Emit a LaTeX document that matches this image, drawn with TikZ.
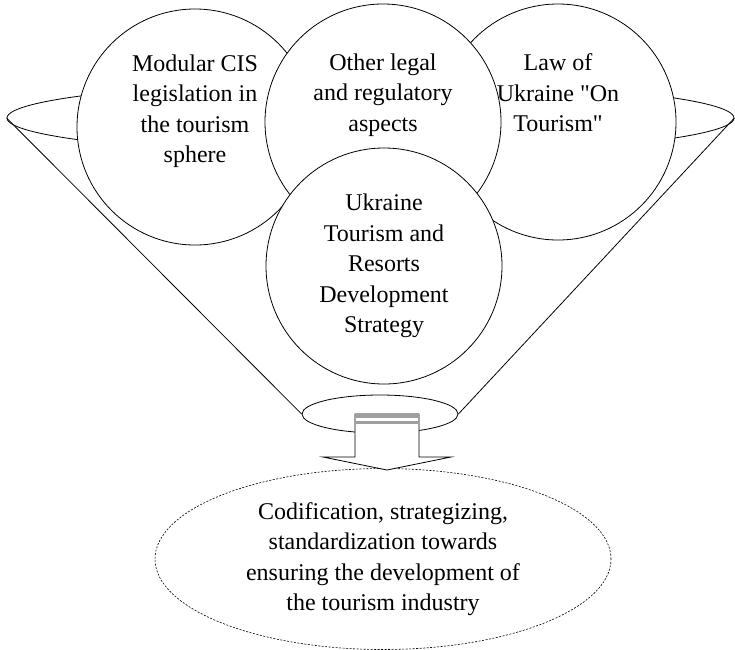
\documentclass[tikz,border=0pt]{standalone}
\usepackage{fontspec}
\defaultfontfeatures[\rmfamily]{}
\setmainfont{Liberation Serif}
\usetikzlibrary{shapes.geometric,calc}

\begin{document}
\begin{tikzpicture}[
			x=1pt, y=-1pt,
			line width=0.8pt,
			every node/.style={font=\fontsize{24}{30.5}\selectfont},
			topic/.style={circle,draw,fill=white,minimum size=236pt,inner sep=0pt},
			circtext/.style={align=center,inner sep=0pt},
			funnelrim/.style={ellipse,draw,inner sep=0pt},
			goalbox/.style={ellipse,draw,line width=0.6pt,dash pattern=on 2pt off 1.5pt,align=center,inner sep=0pt}
		]

		\useasboundingbox (0,0) rectangle (735,649);

		\node[funnelrim,minimum width=727pt,minimum height=73pt] (rim) at (370.5,118) {};
		\node[funnelrim,minimum width=156pt,minimum height=38pt] (neck) at (380,414) {};

		\draw (rim.west) -- (neck.west);
		\draw (rim.east) -- (neck.east);

		\node[topic] (cis) at (195,127) {};
		\node[topic] (law) at (558,122) {};
		\node[topic] (other) at (383,122) {};
		\node[topic,align=center] (strategy) at (384,266) {Ukraine\\Tourism and\\Resorts\\Development\\Strategy};

		\node[circtext] (cistxt) at ([yshift=16pt]cis.center) {Modular CIS\\legislation in\\the tourism\\sphere};
		\node[circtext] (othertxt) at ([yshift=27pt]other.center) {Other legal\\and regulatory\\aspects};
		\node[circtext] (lawtxt) at ([yshift=29pt]law.center) {Law of\\Ukraine "On\\Tourism"};

		\node[goalbox,minimum width=456pt,minimum height=181pt] (goal) at (383,559) {Codification, strategizing,\\standardization towards\\ensuring the development of\\the tourism industry};

		\coordinate (arrtop) at (387,414);
		\coordinate (arrtip) at (387,470);

		\draw[fill=white] ([xshift=-32pt]arrtop) -- ([xshift=32pt]arrtop) -- ([xshift=32pt,yshift=13pt]arrtip) -- ([xshift=64pt,yshift=13pt]arrtip) -- (arrtip) -- ([xshift=-64pt,yshift=13pt]arrtip) -- ([xshift=-32pt,yshift=13pt]arrtip) -- cycle;
		\fill[gray!75] ([xshift=-32pt]arrtop) rectangle ([xshift=32pt,yshift=-3.5pt]arrtop);
		\fill[gray!75] ([xshift=-32pt,yshift=-6.5pt]arrtop) rectangle ([xshift=32pt,yshift=-10pt]arrtop);

	\end{tikzpicture}
\end{document}
